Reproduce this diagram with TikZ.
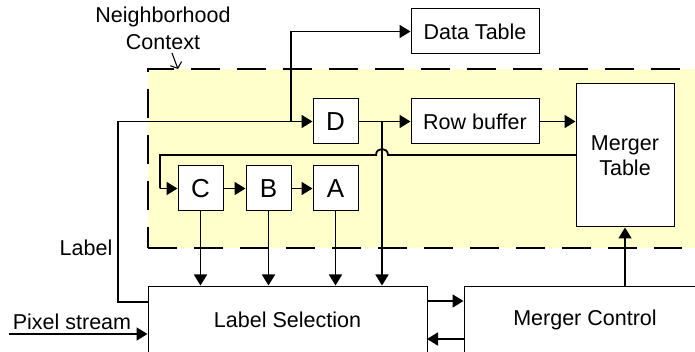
\documentclass[tikz,border=0pt]{standalone}
\usepackage{fontspec}
\setmainfont{Liberation Sans}
\usetikzlibrary{arrows.meta}
\begin{document}
\begin{tikzpicture}[x=1pt,y=-1pt,
  every node/.style={font=\fontsize{21.5}{25}\selectfont},
  blk/.style={draw, line width=1pt, fill=white, inner sep=0pt, align=center},
  reg/.style={blk, minimum width=45, minimum height=45, font=\fontsize{26}{29}\selectfont},
  wire/.style={line width=1.8pt, -{Triangle[length=11pt,width=13pt]}},
  plain/.style={line width=1.8pt},
  txt/.style={inner sep=0pt, anchor=center}]
\useasboundingbox (0,0) rectangle (695,352);
% shaded neighborhood context region
\fill[fill={rgb,255:red,255;green,255;blue,204}] (148,69) rectangle (700,248);
\draw[line width=2.2pt, dash pattern=on 29pt off 17pt, dash phase=8pt]
  (148,248) -- (148,69) -- (700,69);
\draw[line width=2.2pt, dash pattern=on 29pt off 17pt]
  (148,248) -- (682,248);

% blocks
\node[blk, minimum width=128, minimum height=45] (dt) at (475,31.5) {Data Table};
\node[reg] (d) at (335.5,121.5) {D};
\node[blk, minimum width=128, minimum height=45] (rb) at (475,121.5) {Row buffer};
\node[blk, minimum width=98, minimum height=143] (mt) at (625,155.5) {Merger\\Table};
\node[reg] (c) at (200.5,188.5) {C};
\node[reg] (b) at (268.5,188.5) {B};
\node[reg] (a) at (335.5,188.5) {A};
\node[blk, minimum width=279, minimum height=68] (ls) at (287.5,320) {Label Selection};
\node[blk, minimum width=242, minimum height=68] (mc) at (585,320) {Merger Control};

% text labels
\node[txt] (nb) at (163,17) {Neighborhood};
\node[txt] (ctx) at (163,42) {Context};
\node[txt] (lbl) at (86,248) {Label};
\node[txt] (ps) at (72,322) {Pixel stream};

\coordinate (ctxs) at (172,53);
\coordinate (ctxe) at (178,69);
\draw[line width=1.1pt, -{Straight Barb[length=5pt,width=12pt]}] (ctxs) -- (ctxe);

% label feedback into D and data table
\coordinate (lsw) at (148,302);
\coordinate (lcorner) at (118,302);
\coordinate (ltop) at (118,121.5);
\coordinate (dtj) at (291,121.5);
\draw[plain] (lsw) -- (lcorner) -- (ltop) -- (dtj);
\draw[wire] (ltop) -- (d.west);
\draw[wire] (dtj) -- (dtj |- dt.west) -- (dt.west);

% D to row buffer and to label selection
\coordinate (dj) at (382,121.5);
\draw[wire] (d.east) -- (rb.west);
\draw[wire] (dj) -- (dj |- ls.north);
\draw[wire] (rb.east) -- (rb.east -| mt.west);

% merger table back to C, hopping over the D line
\coordinate (mtw) at (576,155);
\coordinate (hopr) at (388,155);
\coordinate (hopl) at (376,155);
\coordinate (cfb) at (160,155);
\draw[plain] (mtw) -- (hopr) .. controls (388,147) and (376,147) .. (hopl) -- (cfb) -- (cfb |- c.west);
\draw[wire] (cfb |- c.west) -- (c.west);

% shift chain and outputs to label selection
\draw[wire] (c.east) -- (b.west);
\draw[wire] (b.east) -- (a.west);
\draw[wire] (c.south) -- (c.south |- ls.north);
\draw[wire] (b.south) -- (b.south |- ls.north);
\draw[wire] (a.south) -- (a.south |- ls.north);

% merger control connections
\draw[wire] (mc.north -| mt.south) -- (mt.south);
\coordinate (lse1) at (427,301);
\coordinate (lse2) at (427,339);
\draw[wire] (lse1) -- (lse1 -| mc.west);
\draw[wire] (lse2 -| mc.west) -- (lse2);

% pixel input
\coordinate (pin) at (9,334);
\draw[wire] (pin) -- (pin -| ls.west);
\end{tikzpicture}
\end{document}
